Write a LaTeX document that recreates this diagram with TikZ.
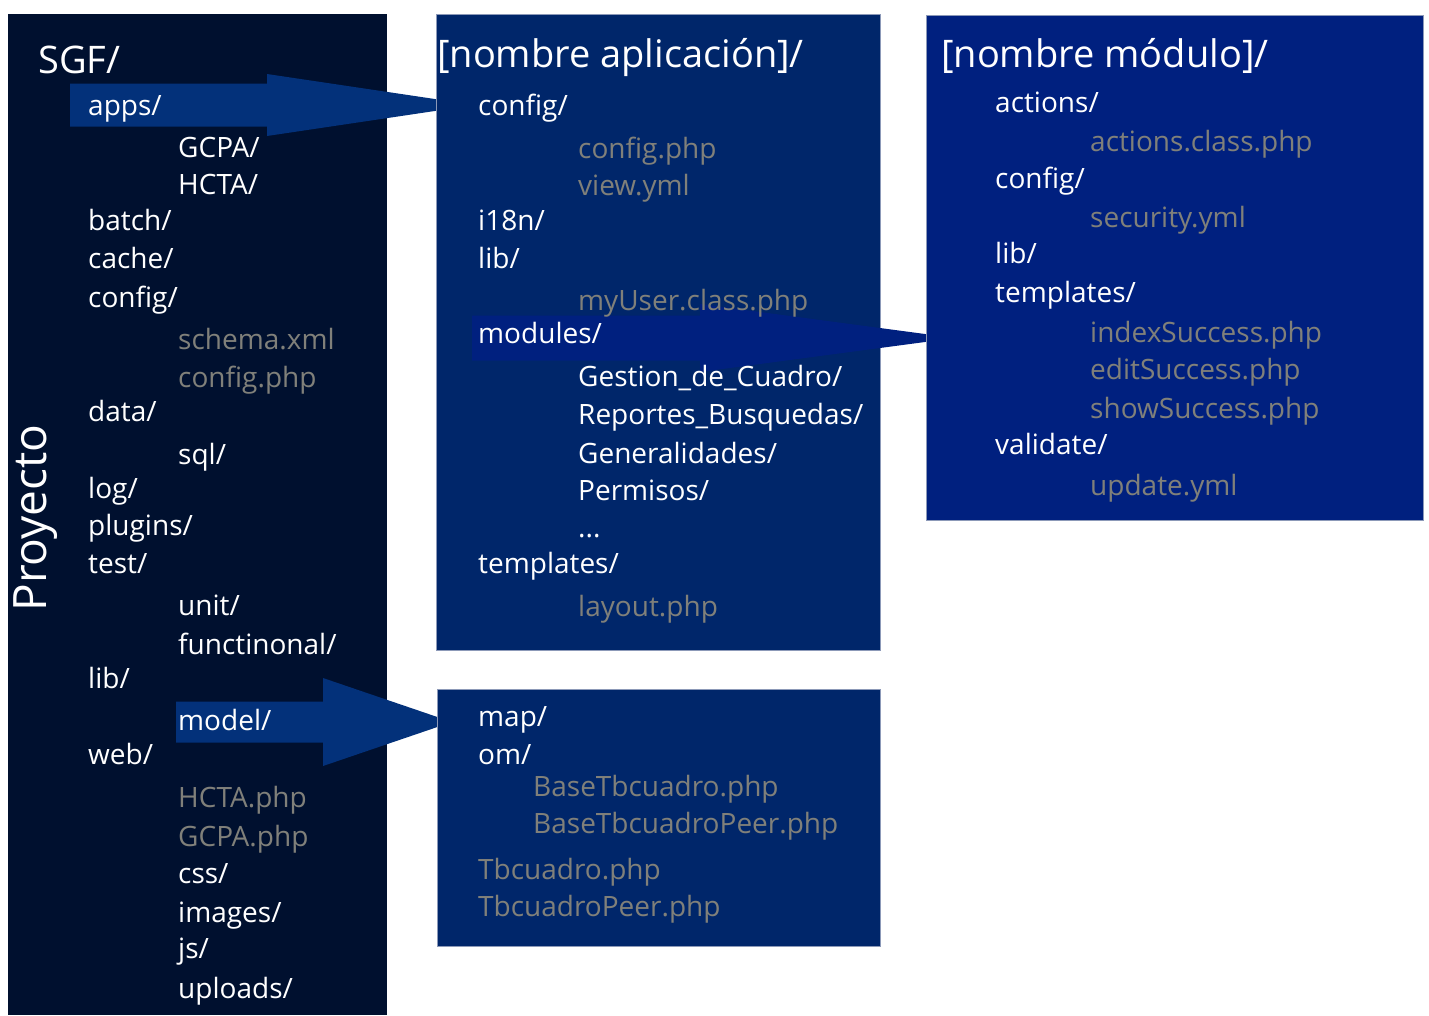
\documentclass[tikz,border=0pt]{standalone}
\usepackage{fontspec}
\setmainfont{Open Sans}
\usetikzlibrary{calc}

\definecolor{projbg}{HTML}{00102F}
\definecolor{appbg}{HTML}{00266A}
\definecolor{modbg}{HTML}{00207F}
\definecolor{arrowbg}{HTML}{03317A}
\definecolor{filegray}{HTML}{80807A}
\definecolor{panelrim}{HTML}{8C99B8}

\pgfdeclarelayer{projlayer}
\pgfdeclarelayer{arrowlayer}
\pgfdeclarelayer{applayer}
\pgfdeclarelayer{modarrowlayer}
\pgfdeclarelayer{modlayer}
\pgfsetlayers{projlayer, arrowlayer, applayer, modarrowlayer, modlayer, main}

% #1 style, #2 tail, #3 tip, #4 head length, #5 half body, #6 half head
\newcommand{\fatarrow}[6]{%
    \fill [#1] ($(#2) + (0, -#5)$) -- ($(#3) + (-#4, -#5)$) -- ($(#3) + (-#4, -#6)$)
        -- (#3) -- ($(#3) + (-#4, #6)$) -- ($(#3) + (-#4, #5)$) -- ($(#2) + (0, #5)$) -- cycle;
}

\tikzset{
    panel/.style  = {draw = panelrim, line width = 0.8pt},
    folder/.style = {anchor = west, inner sep = 0, text = white,
                     font = \fontsize{28}{34}\selectfont,
                     text height = 1.55em, text depth = 0.13em, yshift = -3pt},
    file/.style   = {folder, text = filegray},
    title/.style  = {folder, font = \fontsize{38}{44}\selectfont, yshift = -5pt},
    sidetitle/.style = {anchor = center, rotate = 90, inner sep = 0, text = white,
                     font = \fontsize{46}{52}\selectfont},
}

\begin{document}
\begin{tikzpicture}[x = 1pt, y = -1pt]
    \useasboundingbox (0, 0) rectangle (1429, 1015);

    \begin{pgfonlayer}{projlayer}
        \fill [white] (0, 0) rectangle (1429, 1015);
        \fill [projbg] (8, 14) rectangle (387, 1015);
    \end{pgfonlayer}
    \begin{pgfonlayer}{applayer}
        \fill [appbg, panel] (436, 14) rectangle (880, 650);
        \fill [appbg, panel] (437, 689) rectangle (880, 946);
    \end{pgfonlayer}
    \begin{pgfonlayer}{modlayer}
        \fill [modbg, panel] (926, 15) rectangle (1423, 520);
    \end{pgfonlayer}

    % proyecto
    \begin{scope}[local bounding box = proj]
        \node [title] (sgf) at (38, 58) {SGF/};
        \node [sidetitle] (proyecto) at (36, 518) {Proyecto};

        \node [folder] (apps)       at (88, 105)  {apps/};
        \node [folder] (gcpa)       at (178, 147) {GCPA/};
        \node [folder] (hcta)       at (178, 184) {HCTA/};
        \node [folder] (batch)      at (88, 220)  {batch/};
        \node [folder] (cache)      at (88, 258)  {cache/};
        \node [folder] (config)     at (88, 297)  {config/};
        \node [file]   (schema)     at (178, 339) {schema.xml};
        \node [file]   (configphp)  at (178, 377) {config.php};
        \node [folder] (data)       at (88, 411)  {data/};
        \node [folder] (sql)        at (178, 454) {sql/};
        \node [folder] (log)        at (88, 488)  {log/};
        \node [folder] (plugins)    at (88, 525)  {plugins/};
        \node [folder] (test)       at (88, 563)  {test/};
        \node [folder] (unit)       at (178, 605) {unit/};
        \node [folder] (functional) at (178, 644) {functinonal/};
        \node [folder] (lib)        at (88, 678)  {lib/};
        \node [folder] (model)      at (178, 720) {model/};
        \node [folder] (web)        at (88, 754)  {web/};
        \node [file]   (hctaphp)    at (178, 797) {HCTA.php};
        \node [file]   (gcpaphp)    at (178, 836) {GCPA.php};
        \node [folder] (css)        at (178, 873) {css/};
        \node [folder] (images)     at (178, 912) {images/};
        \node [folder] (js)         at (178, 948) {js/};
        \node [folder] (uploads)    at (178, 988) {uploads/};
    \end{scope}

    % aplicacion
    \begin{scope}[local bounding box = app]
        \node [title] (appname) at (437, 52) {[nombre aplicación]/};

        \node [folder] (appconfig)     at (478, 105) {config/};
        \node [file]   (appconfigphp)  at (578, 148) {config.php};
        \node [file]   (viewyml)       at (578, 185) {view.yml};
        \node [folder] (i18n)          at (478, 220) {i18n/};
        \node [folder] (applib)        at (478, 258) {lib/};
        \node [file]   (myuser)        at (578, 300) {myUser.class.php};
        \node [folder] (modules)       at (478, 333) {modules/};
        \node [folder] (gestion)       at (578, 376) {Gestion\_de\_Cuadro/};
        \node [folder] (reportes)      at (578, 414) {Reportes\_Busquedas/};
        \node [folder] (generalidades) at (578, 453) {Generalidades/};
        \node [folder] (permisos)      at (578, 490) {Permisos/};
        \node [folder] (dots)          at (578, 527) {...};
        \node [folder] (apptemplates)  at (478, 563) {templates/};
        \node [file]   (layout)        at (578, 606) {layout.php};
    \end{scope}

    % modelo
    \begin{scope}[local bounding box = om]
        \node [folder] (map)        at (478, 716) {map/};
        \node [folder] (omdir)      at (478, 754) {om/};
        \node [file]   (basetb)     at (533, 786) {BaseTbcuadro.php};
        \node [file]   (basetbpeer) at (533, 823) {BaseTbcuadroPeer.php};
        \node [file]   (tb)         at (478, 869) {Tbcuadro.php};
        \node [file]   (tbpeer)     at (478, 906) {TbcuadroPeer.php};
    \end{scope}

    % modulo
    \begin{scope}[local bounding box = mod]
        \node [title] (modname) at (941, 52) {[nombre módulo]/};

        \node [folder] (actions)      at (995, 102)  {actions/};
        \node [file]   (actionsphp)   at (1090, 141) {actions.class.php};
        \node [folder] (modconfig)    at (995, 178)  {config/};
        \node [file]   (security)     at (1090, 217) {security.yml};
        \node [folder] (modlib)       at (995, 253)  {lib/};
        \node [folder] (modtemplates) at (995, 292)  {templates/};
        \node [file]   (index)        at (1090, 332) {indexSuccess.php};
        \node [file]   (edit)         at (1090, 369) {editSuccess.php};
        \node [file]   (show)         at (1090, 408) {showSuccess.php};
        \node [folder] (validate)     at (995, 444)  {validate/};
        \node [file]   (update)       at (1090, 485) {update.yml};
    \end{scope}

    % arrows
    \coordinate (appstail)    at ([xshift = -18pt, yshift = 3pt] apps.west);
    \coordinate (appstip)     at ([xshift = 387pt, yshift = 3pt] apps.west);
    \coordinate (modeltail)   at ([xshift = -2pt, yshift = 1pt] model.west);
    \coordinate (modeltip)    at ([xshift = 274pt, yshift = 1pt] model.west);
    \coordinate (modulestail) at ([xshift = -6pt, yshift = -2pt] modules.west);
    \coordinate (modulestip)  at ([xshift = 477pt, yshift = -2pt] modules.west);

    \begin{pgfonlayer}{arrowlayer}
        \fatarrow{arrowbg}{appstail}{appstip}{208}{21.5}{31}
        \fatarrow{arrowbg}{modeltail}{modeltip}{129}{20.5}{44}
    \end{pgfonlayer}
    \begin{pgfonlayer}{modarrowlayer}
        \fatarrow{modbg}{modulestail}{modulestip}{255}{22.5}{34}
    \end{pgfonlayer}

\end{tikzpicture}
\end{document}
